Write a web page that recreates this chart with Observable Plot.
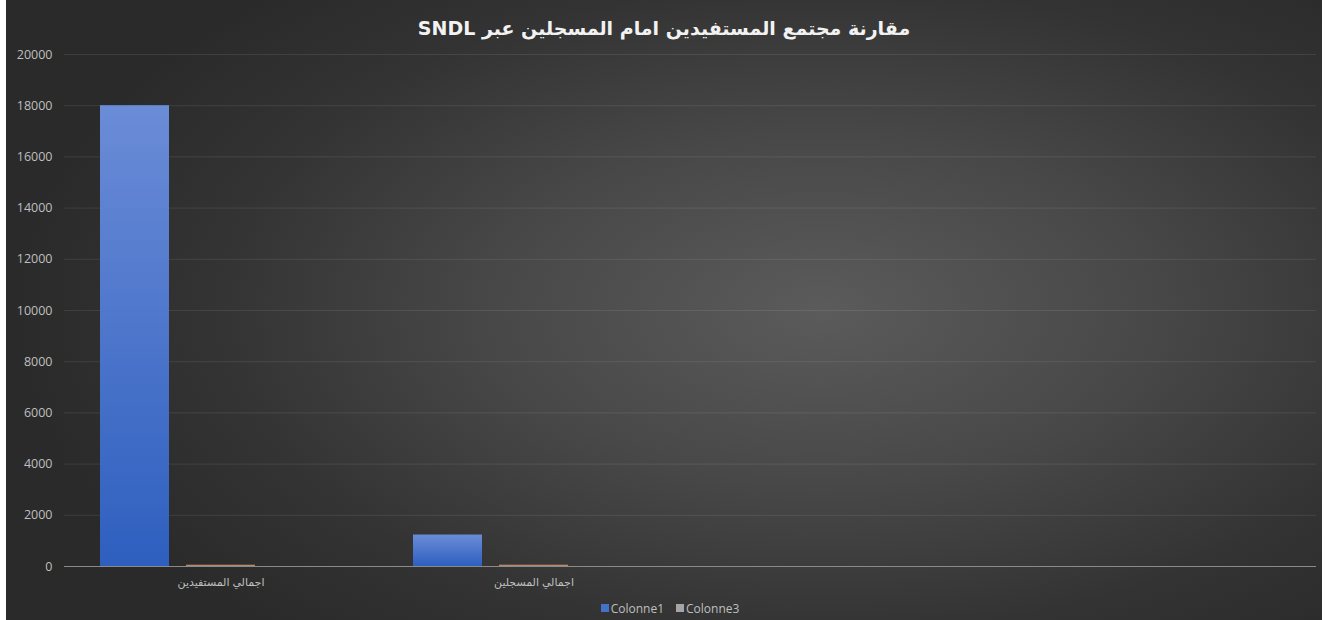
<!DOCTYPE html>
<html>
<head>
<meta charset="utf-8">
<script src="https://cdn.jsdelivr.net/npm/d3@7"></script>
<script src="https://cdn.jsdelivr.net/npm/@observablehq/plot@0.6"></script>
<style>
  html, body { margin: 0; padding: 0; background: #ffffff; }
  #chart {
    position: absolute; left: 6px; top: 0; width: 1316px; height: 620px;
    background: radial-gradient(ellipse 62% 70% at 62% 50%, #5b5b5b 0%, #484848 40%, #333333 75%, #2a2a2a 100%);
    font-family: "Open Sans", "DejaVu Sans", sans-serif;
    overflow: hidden;
  }
  #title {
    height: 45px; line-height: 56px; text-align: center; color: #f2f2f2;
    font-family: "DejaVu Sans", sans-serif; font-weight: bold; font-size: 19px;
    direction: rtl;
  }
  #legend {
    height: 20px; margin-top: -2px; display: flex; justify-content: center; align-items: center; gap: 12px;
    color: #bfbfbf; font-size: 12px; padding-left: 12px;
  }
  #legend .item { display: flex; align-items: center; gap: 2px; }
  #legend .sw { width: 8px; height: 8px; display: inline-block; }
  svg { background: transparent !important; overflow: visible; }
</style>
</head>
<body>
<div id="chart">
  <div id="title"></div>
  <div id="plot"></div>
  <div id="legend"></div>
</div>
<script>
const titleText = "مقارنة مجتمع المستفيدين امام المسجلين عبر SNDL";
const categories = ["اجمالي المستفيدين", "اجمالي المسجلين", "", ""];
const seriesNames = ["Colonne1", "Colonne2", "Colonne3"];
const colonne1 = [18000, 1230, null, null];
const colonne2 = [50, 50, null, null];
const colonne3 = [0, 0, null, null];
const yTicks = [0, 2000, 4000, 6000, 8000, 10000, 12000, 14000, 16000, 18000, 20000];
const legendNames = ["Colonne1", "Colonne3"];
const seriesColors = {Colonne1: "url(#blueGrad)", Colonne2: "#b8896a", Colonne3: "#a5a5a5"};
const legendColors = {Colonne1: "#4472c4", Colonne3: "#a5a5a5"};

document.getElementById("title").textContent = titleText;

const valuesBySeries = {Colonne1: colonne1, Colonne2: colonne2, Colonne3: colonne3};
const data = [];
categories.forEach((c, i) => {
  seriesNames.forEach(s => {
    const v = valuesBySeries[s][i];
    if (v != null) data.push({cat: i, series: s, value: v});
  });
});
const catIndex = categories.map((c, i) => i);

const defs = () => {
  const ns = "http://www.w3.org/2000/svg";
  const d = document.createElementNS(ns, "defs");
  const g = document.createElementNS(ns, "linearGradient");
  g.setAttribute("id", "blueGrad");
  g.setAttribute("x1", "0"); g.setAttribute("y1", "0");
  g.setAttribute("x2", "0"); g.setAttribute("y2", "1");
  [["0%", "#6b8cd7"], ["100%", "#2e5fbf"]].forEach(([o, c]) => {
    const st = document.createElementNS(ns, "stop");
    st.setAttribute("offset", o); st.setAttribute("stop-color", c);
    g.appendChild(st);
  });
  d.appendChild(g);
  return d;
};

const plot = Plot.plot({
  width: 1316,
  height: 555,
  marginTop: 9,
  marginBottom: 34,
  marginLeft: 57,
  marginRight: 6,
  style: {background: "transparent", color: "#bfbfbf", fontSize: "12px", fontFamily: "'Open Sans', 'DejaVu Sans', sans-serif"},
  fx: {domain: catIndex, padding: 0, label: null},
  x: {domain: seriesNames, paddingInner: 0.2, paddingOuter: 0.4, axis: null},
  y: {domain: [0, 20000], label: null},
  marks: [
    defs,
    Plot.ruleY(yTicks.filter(t => t > 0), {stroke: "#ffffff", strokeOpacity: 0.09}),
    Plot.axisY({ticks: yTicks, tickSize: 0, tickPadding: 12, tickFormat: d => String(d), fill: "#bfbfbf", fontSize: 12.5}),
    Plot.axisFx({anchor: "bottom", tickSize: 0, tickPadding: 12, fill: "#bfbfbf", fontSize: 11, label: null, tickFormat: i => categories[i]}),
    Plot.barY(data, {fx: "cat", x: "series", y: "value", fill: d => seriesColors[d.series]}),
    Plot.ruleY(catIndex, {fx: d => d, y: 0, stroke: "#8a8a8a", strokeWidth: 1})
  ]
});
document.getElementById("plot").appendChild(plot);

const legend = document.getElementById("legend");
legendNames.forEach(n => {
  const item = document.createElement("span");
  item.className = "item";
  const sw = document.createElement("span");
  sw.className = "sw"; sw.style.background = legendColors[n];
  const t = document.createElement("span"); t.textContent = n;
  item.appendChild(sw); item.appendChild(t);
  legend.appendChild(item);
});
</script>
</body>
</html>
